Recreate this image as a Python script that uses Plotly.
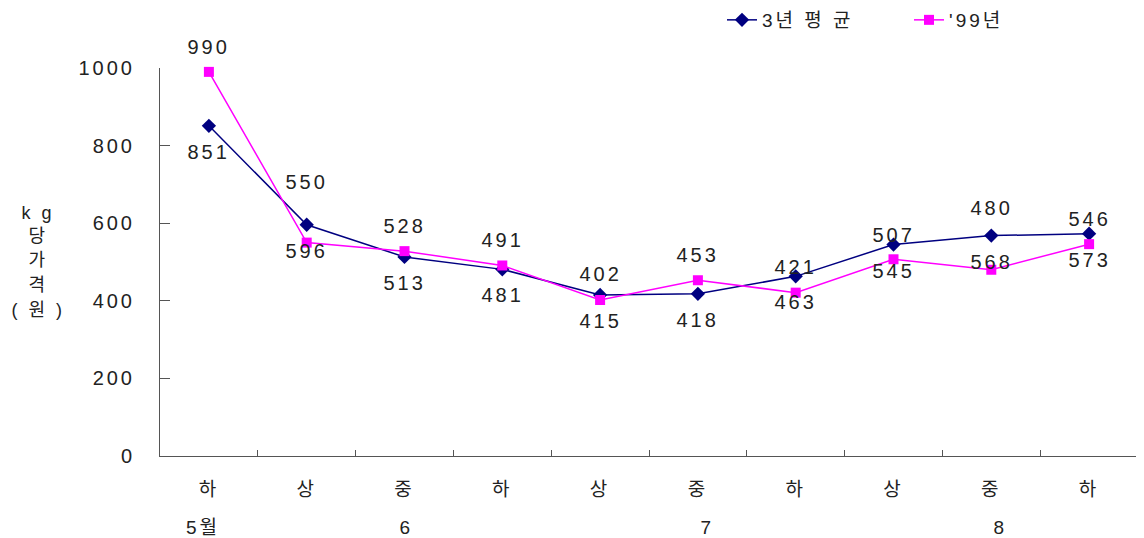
import plotly.graph_objects as go

periods = ["하", "상", "중", "하", "상", "중", "하", "상", "중", "하"]
month_labels = ["5월", "6", "7", "8"]
month_pos = [0, 2, 5, 8]
avg3 = [851, 596, 513, 481, 415, 418, 463, 545, 568, 573]
y99 = [990, 550, 528, 491, 402, 453, 421, 507, 480, 546]
yticks = [0, 200, 400, 600, 800, 1000]
ytitle_lines = ["k g", "당", "가", "격", "( 원 )"]

FONT = "Liberation Sans, Noto Sans CJK KR, sans-serif"
TXT = "#222222"
NAVY = "#000080"
PINK = "#FF00FF"
FS = 20

# page has an 8px body offset; figure coords below are shifted accordingly
OFF = 8
W, H = 1144 - OFF, 538 - OFF
L, T = 160 - OFF, 68 - OFF
PR, PB = 1138 - OFF, 456 - OFF
PW, PH = PR - L, PB - T

x = list(range(len(periods)))

fig = go.Figure()
fig.add_trace(go.Scatter(
    x=x, y=avg3, name="3년 평 균", mode="lines+markers",
    line=dict(color=NAVY, width=1.5),
    marker=dict(symbol="diamond", size=11, color=NAVY),
    cliponaxis=False,
))
fig.add_trace(go.Scatter(
    x=x, y=y99, name="'99년", mode="lines+markers",
    line=dict(color=PINK, width=1.5),
    marker=dict(symbol="square", size=10, color=PINK),
    cliponaxis=False,
))

# data labels
pink_shift = [25, 61, 25, 25, 26, 25, 26, 24, 62, 25]
for i, v in enumerate(y99):
    fig.add_annotation(x=x[i], y=v, text=str(v), showarrow=False,
                       yshift=pink_shift[i], font=dict(size=FS, color=TXT, family=FONT))
for i, v in enumerate(avg3):
    fig.add_annotation(x=x[i], y=v, text=str(v), showarrow=False,
                       yshift=-26, font=dict(size=FS, color=TXT, family=FONT))

# month labels
month_xshift = [-6, 2, 10, 9]
for lbl, p, dx in zip(month_labels, month_pos, month_xshift):
    fig.add_annotation(x=p, y=-(527 - 456) / PH, yref="paper", text=lbl, showarrow=False,
                       yanchor="middle", xshift=dx,
                       font=dict(size=19, color=TXT, family=FONT))

# y axis title, one line per annotation
ty = [213, 236, 260, 285, 310]
for lbl, py in zip(ytitle_lines, ty):
    fig.add_annotation(xref="paper", yref="paper", x=(38 - 160) / PW, y=(456 - py) / PH,
                       text=lbl, showarrow=False, xanchor="center", yanchor="middle",
                       font=dict(size=18, color=TXT, family=FONT))

fig.update_layout(
    width=W, height=H,
    margin=dict(l=L, r=W - PR, t=T, b=H - PB, autoexpand=False),
    paper_bgcolor="white", plot_bgcolor="white",
    font=dict(family=FONT, color=TXT, size=FS),
    showlegend=True,
    legend=dict(orientation="h", x=(722 - 160) / PW, xanchor="left",
                y=1 + (68 - 20) / PH, yanchor="middle",
                font=dict(size=19, family=FONT, color=TXT), bgcolor="rgba(0,0,0,0)",
                entrywidth=142, entrywidthmode="pixels", tracegroupgap=0),
    xaxis=dict(
        range=[-0.5, len(periods) - 0.5],
        tickvals=x, ticktext=periods, ticks="",
        tickfont=dict(size=19),
        showgrid=False, zeroline=False,
        showline=True, linecolor="#555555", linewidth=1,
        ticklabelstandoff=16,
        minor=dict(tickvals=[i + 0.5 for i in x], ticks="inside", ticklen=6,
                   tickcolor="#555555", showgrid=False),
        fixedrange=True,
    ),
    yaxis=dict(
        range=[0, 1000], tickvals=yticks,
        ticks="inside", ticklen=10, tickcolor="#555555",
        showgrid=False, zeroline=False,
        showline=True, linecolor="#555555", linewidth=1,
        ticklabelstandoff=20,
        fixedrange=True,
    ),
)

post = """
var gd = document.getElementById('{plot_id}');
function ls(){ gd.querySelectorAll('text').forEach(function(t){ t.style.letterSpacing='3px'; }); }
ls();
if (gd.on) { gd.on('plotly_afterplot', ls); }
"""
fig.write_html("out.html", post_script=post)
